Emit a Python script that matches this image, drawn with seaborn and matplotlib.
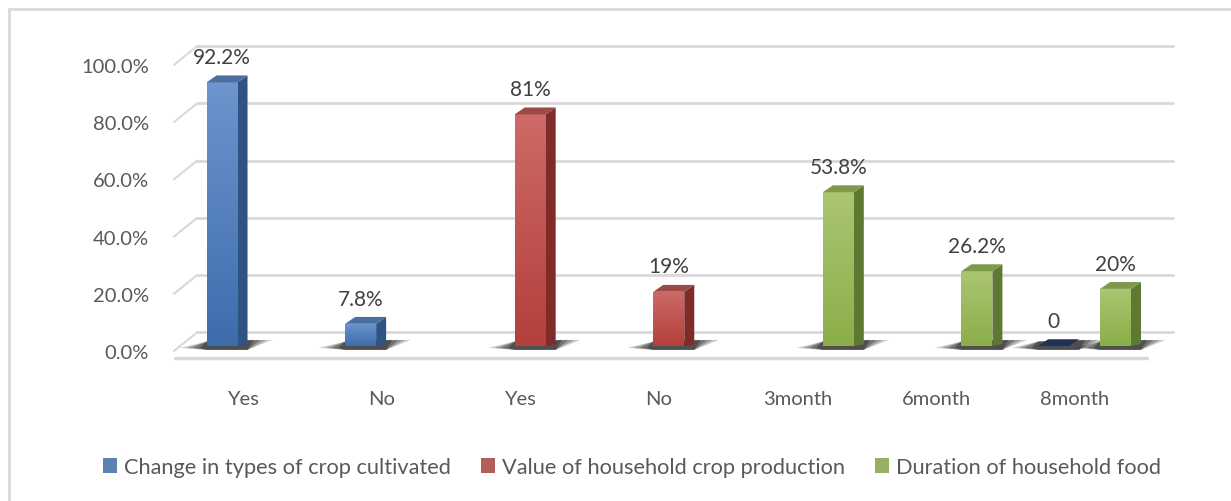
import numpy as np
import pandas as pd
import matplotlib
matplotlib.use("Agg")
import matplotlib.pyplot as plt
from matplotlib.colors import LinearSegmentedColormap
from matplotlib.patches import Polygon, Rectangle
from matplotlib.lines import Line2D
import seaborn as sns

# ---------- DATA ----------
categories = ["Yes", "No", "Yes", "No", "3month", "6month", "8month"]
series_names = ["Change in types of crop cultivated",
                "Value of household crop production",
                "Duration of household food"]
change_crop = [92.2, 7.8, None, None, None, None, 0.0]
value_production = [None, None, 81.0, 19.0, None, None, None]
duration_food = [None, None, None, None, 53.8, 26.2, 20.0]
change_crop_labels = ["92.2%", "7.8%", "0"]
value_production_labels = ["81%", "19%"]
duration_food_labels = ["53.8%", "26.2%", "20%"]
y_ticks = [0.0, 0.2, 0.4, 0.6, 0.8, 1.0]

# ---------- STYLE ----------
colors = ["#4F81BD", "#C0504D", "#9BBB59"]
grad_light = ["#6D95CE", "#CD6A67", "#AAC672"]
grad_dark = ["#3D6CAD", "#B43F3C", "#8CAE48"]
side_colors = ["#2F5383", "#7E2B29", "#5E7A32"]
top_colors = ["#4C6E9F", "#9C4A47", "#7D9A4B"]
zero_top = "#1F3352"
grid_col = "#D9D9D9"
W, H = 1231, 502

sns.set_theme(style="white")
plt.rcParams["font.family"] = ["Lato", "DejaVu Sans"]

# ---------- LONG TABLE ----------
rows = []
for name, vals in zip(series_names, [change_crop, value_production, duration_food]):
    for i, v in enumerate(vals):
        if v is not None:
            rows.append({"pos": i, "series": name, "share": v / 100})
df = pd.DataFrame(rows)
labels_by_series = [change_crop_labels, value_production_labels, duration_food_labels]

fig = plt.figure(figsize=(W / 100, H / 100), dpi=100)
ax = fig.add_axes([174 / W, 1 - 352 / H, 999 / W, 291 / H])

sns.barplot(data=df, x="pos", y="share", hue="series", hue_order=series_names,
            order=list(range(len(categories))), palette=colors, width=0.67,
            linewidth=0, ax=ax, zorder=3)

ax.set_xlim(-0.57, 6.638)
ax.set_ylim(0, 1.0)
xl, yl = ax.get_xlim(), ax.get_ylim()

# pseudo-3D depth offsets (data units)
dx, dy = 10 / 138.6, 7 / 291

for k, cont in enumerate(list(ax.containers)):
    cmap = LinearSegmentedColormap.from_list(f"g{k}", [grad_dark[k], grad_light[k]])
    bars = list(cont.patches)
    for p in bars:
        x0, w, h = p.get_x(), p.get_width(), p.get_height()
        x1 = x0 + w
        # floor shadow
        for s, a in [(1.0, 0.22), (0.75, 0.28), (0.5, 0.32), (0.25, 0.38)]:
            shadow = Polygon([(x0 - 0.19 * s, -0.006), (x0, 0.016), (x1 + dx + 0.18 * s, 0.022),
                              (x1 + dx, -0.013), (x0, -0.013)],
                             closed=True, facecolor="#1A1A1A", edgecolor="none",
                             alpha=a, zorder=1, clip_on=False)
            ax.add_patch(shadow)
        if h > 0:
            im = ax.imshow(np.linspace(1, 0, 256).reshape(-1, 1), extent=[x0, x1, 0, h],
                           aspect="auto", cmap=cmap, origin="upper", zorder=3.5)
            im.set_clip_path(p)
            side = Polygon([(x1, 0), (x1 + dx, dy * 0.3), (x1 + dx, h + dy), (x1, h)],
                           closed=True, facecolor=side_colors[k], edgecolor="none", zorder=3.4)
            ax.add_patch(side)
        top = Polygon([(x0, h), (x0 + dx, h + dy), (x1 + dx, h + dy), (x1, h)], closed=True,
                      facecolor=top_colors[k] if h > 0 else zero_top, edgecolor="none", zorder=3.6)
        ax.add_patch(top)
    ax.bar_label(cont, labels=labels_by_series[k], padding=11, fontsize=15, color="#404040")

ax.set_xlim(xl)
ax.set_ylim(yl)
ax.set_aspect("auto")

# back wall gridlines with slanted ends
for v in y_ticks:
    ax.plot([0.023, 1.0], [v + 0.048] * 2, transform=ax.get_yaxis_transform(),
            color=grid_col, lw=2, zorder=0, clip_on=False)
    ax.plot([0.0, 0.023], [v - 0.017, v + 0.048], transform=ax.get_yaxis_transform(),
            color=grid_col, lw=1.5, zorder=0, clip_on=False)

for sp in ax.spines.values():
    sp.set_visible(False)
ax.grid(False)

ax.set_yticks([v - 0.017 for v in y_ticks], labels=[f"{v:.1%}" for v in y_ticks])
ax.set_xticks(np.arange(len(categories)) - 0.072, labels=categories)
ax.tick_params(axis="y", length=0, pad=18, labelsize=14.5, labelcolor="#595959")
ax.tick_params(axis="x", length=0, pad=28, labelsize=14.5, labelcolor="#595959")
ax.set_xlabel("")
ax.set_ylabel("")

# floor front edge
fig.add_artist(Line2D([175 / W, 1147 / W], [1 - 359 / H] * 2, transform=fig.transFigure,
                      color=grid_col, lw=2.5))
# chart area border
fig.add_artist(Rectangle((9 / W, -0.1), 1.2, 1.1 - 10 / H, transform=fig.transFigure,
                         fill=False, edgecolor=grid_col, lw=2))

handles, labels = ax.get_legend_handles_labels()
ax.legend_.remove()
fig.legend(handles, labels, loc="center", bbox_to_anchor=(632 / W, 1 - 468 / H), ncol=3,
           frameon=False, fontsize=15.7, labelcolor="#595959", handlelength=0.64,
           handleheight=0.64, handletextpad=0.3, columnspacing=1.4)

fig.savefig("out.png", dpi=100)
